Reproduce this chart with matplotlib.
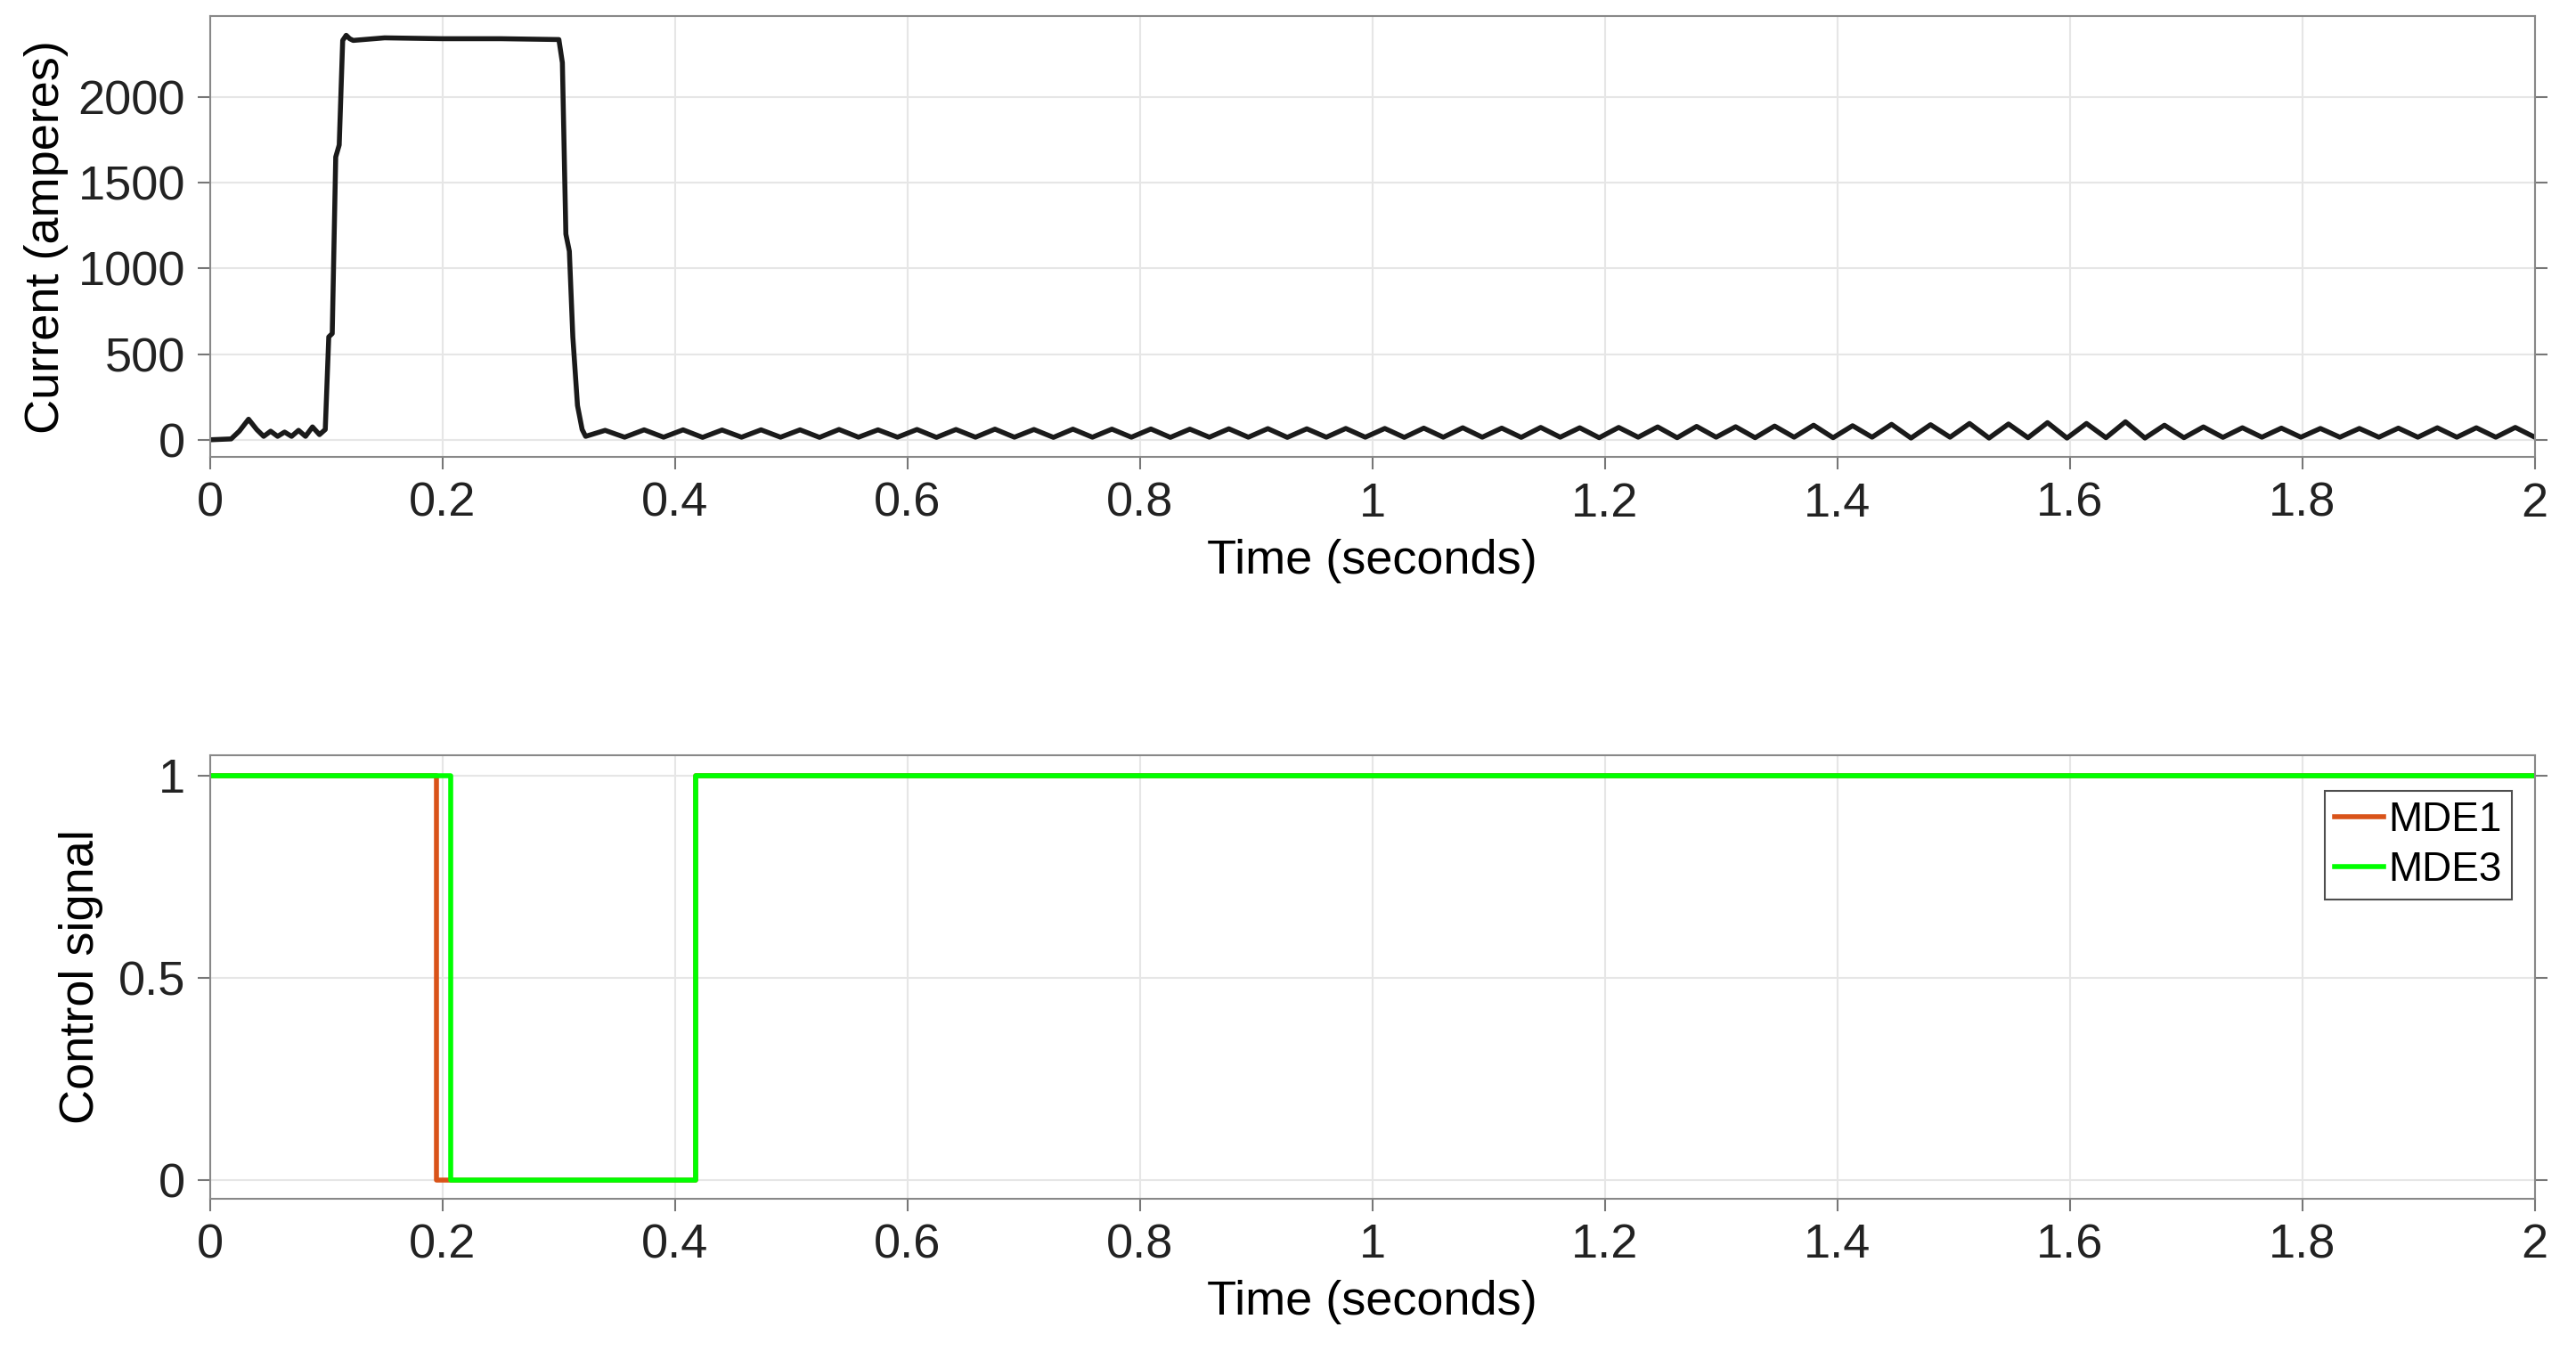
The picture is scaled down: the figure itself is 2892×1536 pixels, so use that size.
import matplotlib.pyplot as plt

# current trace: key points before/through the pulse
pulse_t = [0.0, 0.018, 0.025, 0.033, 0.040, 0.046, 0.052, 0.058, 0.064, 0.070, 0.076,
           0.082, 0.088, 0.094, 0.099, 0.102, 0.105, 0.108, 0.111, 0.114, 0.117, 0.120,
           0.123, 0.150, 0.200, 0.250, 0.300, 0.303, 0.306, 0.309, 0.312, 0.316, 0.320, 0.323]
pulse_i = [0, 5, 50, 120, 60, 20, 50, 20, 45, 20, 55, 20, 75, 30, 60, 600, 620, 1650,
           1720, 2330, 2360, 2340, 2330, 2345, 2340, 2340, 2335, 2200, 1200, 1100, 600, 200, 60, 20]

# ripple after the pulse: one peak per cycle (~30 Hz), troughs in between
ripple_start = 0.323
ripple_period = 1.677 / 50
ripple_peaks = [55, 58, 58, 57, 58, 58, 60, 58, 60, 60,
                62, 60, 62, 62, 63, 62, 64, 65, 64, 66,
                66, 68, 70, 68, 72, 70, 72, 75, 78, 76,
                80, 85, 82, 90, 88, 95, 92, 100, 95, 105,
                85, 75, 70, 68, 66, 66, 68, 70, 70, 72]
ripple_troughs = [15, 15, 14, 15, 15, 14, 15, 15, 14, 15,
                  15, 14, 15, 15, 14, 15, 15, 14, 15, 15,
                  14, 15, 15, 14, 15, 12, 15, 12, 15, 12,
                  15, 12, 15, 10, 15, 10, 12, 10, 12, 10,
                  12, 14, 15, 15, 15, 15, 15, 15, 15, 15]

# control signals (step changes)
mde1_t = [0.0, 0.195, 0.195, 0.418, 0.418, 2.0]
mde1_v = [1, 1, 0, 0, 1, 1]
mde3_t = [0.0, 0.207, 0.207, 0.418, 0.418, 2.0]
mde3_v = [1, 1, 0, 0, 1, 1]

cur_t = list(pulse_t)
cur_i = list(pulse_i)
for k, (p, tr) in enumerate(zip(ripple_peaks, ripple_troughs)):
    t0 = ripple_start + k * ripple_period
    cur_t += [t0 + ripple_period * 0.5, t0 + ripple_period]
    cur_i += [p, tr]

plt.rcParams["font.family"] = "Liberation Sans"
plt.rcParams["font.size"] = 39

fig = plt.figure(figsize=(28.92, 15.36), dpi=100)
ax1 = fig.add_axes([0.0816, 0.666, 0.9024, 0.322])
ax2 = fig.add_axes([0.0816, 0.124, 0.9024, 0.324])

xt = [0, 0.2, 0.4, 0.6, 0.8, 1, 1.2, 1.4, 1.6, 1.8, 2]
xl = ["0", "0.2", "0.4", "0.6", "0.8", "1", "1.2", "1.4", "1.6", "1.8", "2"]

ax1.plot(cur_t, cur_i, color="#1a1a1a", lw=4, solid_joinstyle="round")
ax1.set_ylim(-100, 2470)
ax1.set_yticks([0, 500, 1000, 1500, 2000])
ax1.set_ylabel("Current (amperes)", labelpad=8)

ax2.plot(mde1_t, mde1_v, color="#D95319", lw=4, label="MDE1")
ax2.plot(mde3_t, mde3_v, color="#00FF00", lw=4, label="MDE3")
ax2.set_ylim(-0.045, 1.05)
ax2.set_yticks([0, 0.5, 1])
ax2.set_yticklabels(["0", "0.5", "1"])
ax2.set_ylabel("Control signal", labelpad=12)
leg = ax2.legend(loc="upper right", bbox_to_anchor=(0.99, 0.92), fontsize=33,
                 frameon=True, fancybox=False, handlelength=1.2, handletextpad=0.1,
                 borderpad=0.25, labelspacing=0.25, borderaxespad=0)
leg.get_frame().set_edgecolor("#222222")
leg.get_frame().set_linewidth(1.5)

for ax in (ax1, ax2):
    ax.set_xlim(0, 2)
    ax.set_xticks(xt)
    ax.set_xticklabels(xl)
    ax.set_xlabel("Time (seconds)", labelpad=10)
    ax.grid(True, color="#e6e6e6", lw=1.5)
    ax.tick_params(direction="out", length=10, width=1.5, pad=10,
                   right=True, labelcolor="#222222", color="#777777")
    for s in ax.spines.values():
        s.set_color("#888888")
        s.set_linewidth(1.5)

fig.savefig("out.png", dpi=100)
